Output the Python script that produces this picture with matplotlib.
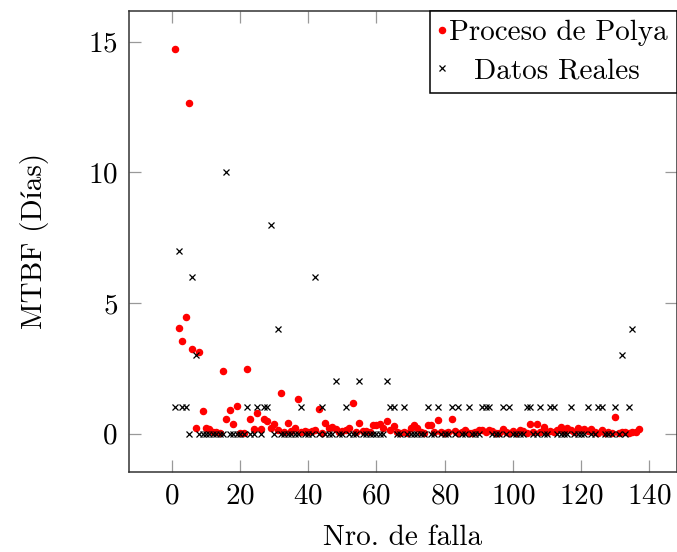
import matplotlib
matplotlib.use("Agg")
import matplotlib.pyplot as plt
import numpy as np

# MTBF del proceso de Polya (x = 1..137)
polya = [
    14.70, 4.04, 3.55, 4.48, 12.65, 3.25, 0.20, 3.11, 0.88, 0.20,
    0.17, 0.08, 0.05, 0.04, 2.38, 0.55, 0.89, 0.37, 1.06, 0.03,
    0.03, 2.46, 0.55, 0.17, 0.80, 0.19, 0.57, 0.50, 0.23, 0.36,
    0.13, 1.55, 0.08, 0.42, 0.10, 0.23, 1.32, 0.05, 0.10, 0.05,
    0.10, 0.14, 0.95, 0.03, 0.39, 0.23, 0.24, 0.16, 0.07, 0.10,
    0.14, 0.20, 1.18, 0.06, 0.39, 0.10, 0.10, 0.05, 0.33, 0.33,
    0.37, 0.20, 0.50, 0.14, 0.30, 0.05, 0.03, 0.08, 0.02, 0.20,
    0.33, 0.22, 0.05, 0.03, 0.32, 0.33, 0.08, 0.52, 0.05, 0.03,
    0.08, 0.57, 0.10, 0.03, 0.06, 0.12, 0.04, 0.02, 0.05, 0.12,
    0.14, 0.05, 0.12, 0.10, 0.04, 0.03, 0.17, 0.05, 0.03, 0.10,
    0.04, 0.15, 0.10, 0.03, 0.36, 0.06, 0.36, 0.08, 0.24, 0.05,
    0.10, 0.08, 0.12, 0.25, 0.10, 0.22, 0.15, 0.05, 0.20, 0.12,
    0.18, 0.10, 0.16, 0.06, 0.04, 0.14, 0.03, 0.05, 0.02, 0.65,
    0.04, 0.08, 0.06, 0.03, 0.08, 0.05, 0.17,
]
x_polya = np.arange(1, len(polya) + 1)

# datos reales (x = 1..135), solo los valores distintos de cero
reales_nonzero = {
    1: 1, 2: 7, 3: 1, 4: 1, 6: 6, 7: 3, 16: 10, 22: 1, 25: 1, 27: 1,
    28: 1, 29: 8, 31: 4, 38: 1, 42: 6, 44: 1, 48: 2, 51: 1, 55: 2, 63: 2,
    64: 1, 65: 1, 68: 1, 75: 1, 78: 1, 82: 1, 84: 1, 87: 1, 91: 1, 92: 1,
    93: 1, 97: 1, 99: 1, 104: 1, 105: 1, 108: 1, 111: 1, 112: 1, 117: 1,
    122: 1, 125: 1, 126: 1, 130: 1, 132: 3, 134: 1, 135: 4,
}
N_REALES = 135
x_reales = np.arange(1, N_REALES + 1)
reales = [reales_nonzero.get(i, 0) for i in x_reales]

xticks = [0, 20, 40, 60, 80, 100, 120, 140]
yticks = [0, 5, 10, 15]

plt.rcParams["font.family"] = ["cmr10", "Liberation Serif"]
plt.rcParams["axes.formatter.use_mathtext"] = True
FS = 21

fig = plt.figure(figsize=(6.77, 5.52), dpi=100)
ax = fig.add_axes([0.1905, 0.1449, 0.8088, 0.8357])

ax.plot(x_polya, polya, linestyle="none", marker="o", ms=4.4,
        color="red", mec="red", label="Proceso de Polya")
ax.plot(x_reales, reales, linestyle="none", marker="x", ms=4.0,
        mew=0.9, color="black", label="Datos Reales")

ax.set_xlim(-12.6, 148.0)
ax.set_ylim(-1.47, 16.18)
ax.set_xticks(xticks)
ax.set_yticks(yticks)
ax.tick_params(direction="in", length=8.5, width=0.9, color="#999999",
               top=True, right=True, labelsize=FS, pad=8)
for s in ax.spines.values():
    s.set_linewidth(1.1)
    s.set_color("#333333")

ax.set_xlabel("Nro. de falla", fontsize=FS, labelpad=11)
ax.set_ylabel("MTBF (Días)", fontsize=FS, labelpad=28)

leg = ax.legend(loc="upper right", bbox_to_anchor=(1.0, 1.0),
                borderaxespad=0, fancybox=False, framealpha=1,
                edgecolor="black", fontsize=FS, handlelength=0.2,
                handletextpad=0.15, labelspacing=0.42, borderpad=0.3)
leg.get_frame().set_linewidth(1.1)
# pgfplots centra el texto de la segunda entrada
leg.get_texts()[1].set_position((25, 0))

fig.savefig("out.png", dpi=100)
